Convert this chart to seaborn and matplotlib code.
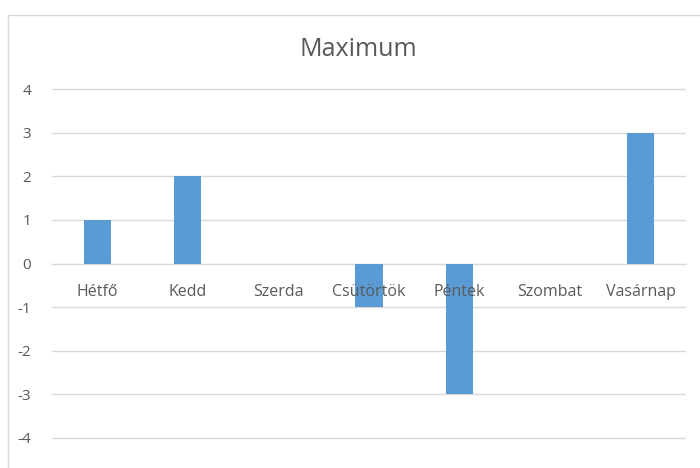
import matplotlib
matplotlib.use('Agg')
import matplotlib.pyplot as plt
import seaborn as sns
import pandas as pd
from matplotlib.patches import Rectangle

# adatok
napok = ['Hétfő', 'Kedd', 'Szerda', 'Csütörtök', 'Péntek', 'Szombat', 'Vasárnap']
maximum = [1, 2, 0, -1, -3, 0, 3]
y_ticks = [-4, -3, -2, -1, 0, 1, 2, 3, 4]

df = pd.DataFrame({'nap': napok, 'maximum': maximum})

sns.set_style('white')
plt.rcParams['font.family'] = ['Open Sans', 'DejaVu Sans']

fig = plt.figure(figsize=(7, 4.68), dpi=100)
# diagram keret
fig.patches.append(Rectangle((8 / 700, -0.01), 1.0, 1 - 15 / 468 + 0.01,
                             transform=fig.transFigure, fill=False,
                             edgecolor='#d9d9d9', linewidth=1))
ax = fig.add_axes([52 / 700, 1 - 440 / 468, (686 - 52) / 700, (440 - 87) / 468])

sns.barplot(data=df, x='nap', y='maximum', color='#5b9bd5', width=0.3,
            saturation=1, linewidth=0, ax=ax, zorder=3)

ax.set_ylim(-4.05, 4.05)
ax.set_yticks(y_ticks)
ax.set_yticklabels([str(v) for v in y_ticks])
ax.yaxis.grid(True, color='#d9d9d9', linewidth=1, zorder=0)
ax.set_axisbelow(True)

for s in ['top', 'right', 'left']:
    ax.spines[s].set_visible(False)
ax.spines['bottom'].set_position(('data', 0))
ax.spines['bottom'].set_color('#d9d9d9')

# kategória feliratok a nulla vonal alatt, az oszlopok előtt
ax.set_xticklabels([])
ax.tick_params(axis='x', length=0)
for i, nap in enumerate(napok):
    ax.text(i, -0.65, nap, ha='center', va='center', fontsize=11.5,
            color='#595959', zorder=5)

ax.tick_params(axis='y', length=0, pad=15, labelsize=11, labelcolor='#595959')
ax.set_xlabel('')
ax.set_ylabel('')

fig.text(0.512, 1 - 50 / 468, 'Maximum', ha='center', va='center',
         fontsize=18, color='#595959')

fig.savefig('out.png', dpi=100)
